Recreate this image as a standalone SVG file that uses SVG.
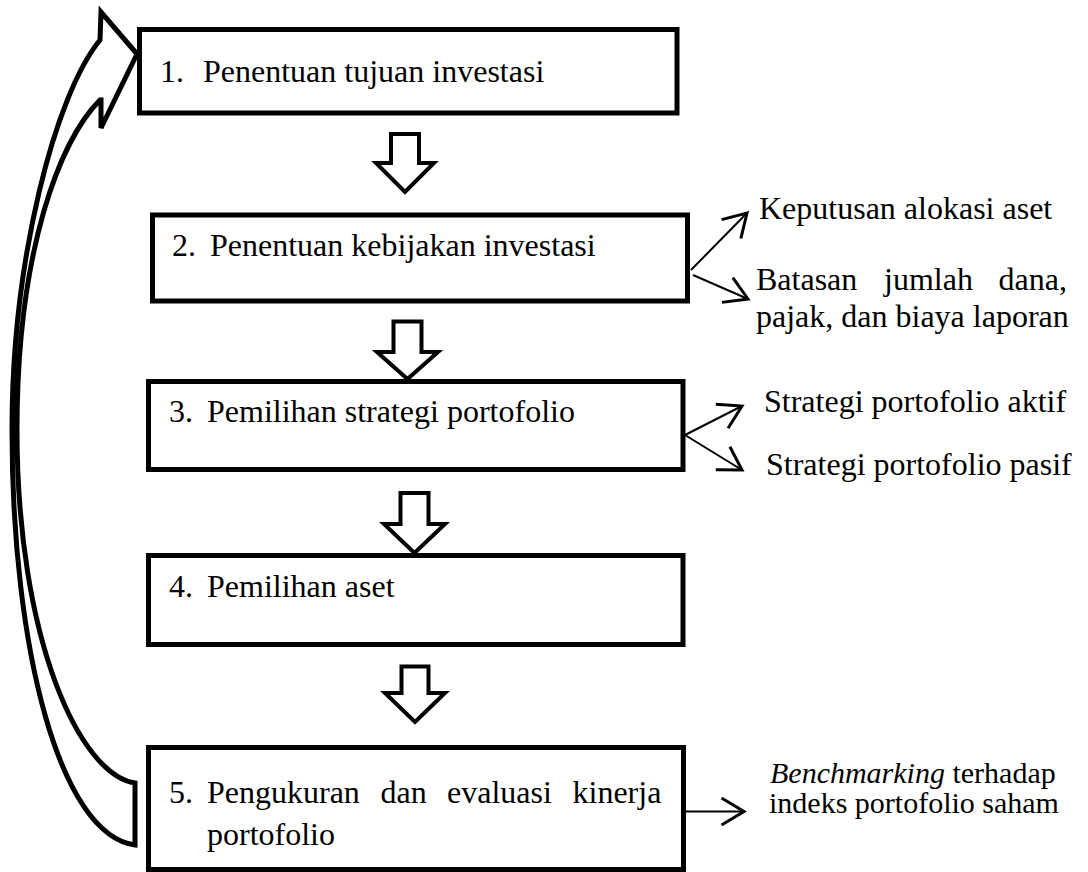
<svg xmlns="http://www.w3.org/2000/svg" width="1088" height="872" viewBox="0 0 1088 872">
<style>
  .box { fill: #fff; stroke: #000; stroke-width: 5; }
  .blk { fill: #fff; stroke: #000; stroke-width: 4; stroke-linejoin: miter; }
  .t { font-family: "Liberation Serif", "Times New Roman", serif; font-size: 32px; fill: #000; }
  .s { font-size: 30px; }
  .it { font-style: italic; }
  .ln { fill: none; stroke: #000; stroke-width: 2; marker-end: url(#open); }
  .curve { fill: #fff; stroke: #000; stroke-width: 5; stroke-linejoin: miter; }
</style>
<defs>
  <marker id="open" markerUnits="userSpaceOnUse" markerWidth="30" markerHeight="30" viewBox="-16 -10 20 20" refX="0" refY="0" orient="auto">
    <path d="M-15,-9 L0,0 L-15,9" fill="none" stroke="#000" stroke-width="2"/>
  </marker>
</defs>
<rect width="1088" height="872" fill="#fff"/>

<g id="feedback-arrow">
  <path class="curve" d="M135,845 C60,835 12,650 12,430 C12,260 55,95 100,40 L101,12 L137,54 L101,128 L101,100 L100,100 C60,140 17,250 17,430 C17,640 80,775 135,783 Z"/>
</g>

<g id="node1">
  <rect class="box" x="139.5" y="29.5" width="537.5" height="83.5"/>
  <text class="t" x="160" y="82">1.</text>
  <text class="t" x="203" y="82">Penentuan tujuan investasi</text>
</g>
<g id="node2">
  <rect class="box" x="152.5" y="215" width="535" height="86"/>
  <text class="t" x="172" y="256">2.</text>
  <text class="t" x="210" y="256">Penentuan kebijakan investasi</text>
</g>
<g id="node3">
  <rect class="box" x="148.5" y="381.5" width="534.5" height="88"/>
  <text class="t" x="169" y="422">3.</text>
  <text class="t" x="207" y="422">Pemilihan strategi portofolio</text>
</g>
<g id="node4">
  <rect class="box" x="148.5" y="555.5" width="534.5" height="89"/>
  <text class="t" x="169" y="597">4.</text>
  <text class="t" x="207" y="597">Pemilihan aset</text>
</g>
<g id="node5">
  <rect class="box" x="148.5" y="747.5" width="535" height="122"/>
  <text class="t" x="169" y="803">5.</text>
  <text class="t" x="207" y="803">Pengukuran</text>
  <text class="t" x="380.5" y="803">dan</text>
  <text class="t" x="447" y="803">evaluasi</text>
  <text class="t" x="572.5" y="803">kinerja</text>
  <text class="t" x="207" y="845">portofolio</text>
</g>

<g id="connectors">
  <path class="blk" d="M391,134 L419,134 L419,163 L434,163 L405,192 L376,163 L391,163 Z"/>
  <path class="blk" d="M393.5,321.5 L421.5,321.5 L421.5,352 L438,352 L407.5,379 L377,352 L393.5,352 Z"/>
  <path class="blk" d="M400.5,493 L428.5,493 L428.5,524 L445,524 L414.5,553 L384,524 L400.5,524 Z"/>
  <path class="blk" d="M401.5,666.5 L428.5,666.5 L428.5,693 L445,693 L415,722 L385,693 L401.5,693 Z"/>

  <line class="ln" x1="691" y1="270" x2="747" y2="213"/>
  <line class="ln" x1="693" y1="275" x2="748" y2="299"/>
  <line class="ln" x1="685" y1="435" x2="742" y2="406"/>
  <line class="ln" x1="685" y1="435" x2="742" y2="470"/>
  <line class="ln" x1="685" y1="811.5" x2="744" y2="811.5"/>
</g>

<g id="labels">
  <text class="t" x="759" y="219">Keputusan alokasi aset</text>
  <text class="t" x="756" y="290">Batasan</text>
  <text class="t" x="884" y="290">jumlah</text>
  <text class="t" x="998.5" y="290">dana,</text>
  <text class="t" x="756" y="327">pajak, dan biaya laporan</text>
  <text class="t" x="764" y="412">Strategi portofolio aktif</text>
  <text class="t" x="766" y="475">Strategi portofolio pasif</text>
  <text class="t s" x="770" y="783"><tspan class="it">Benchmarking</tspan> terhadap</text>
  <text class="t s" x="769" y="813">indeks portofolio saham</text>
</g>
</svg>
